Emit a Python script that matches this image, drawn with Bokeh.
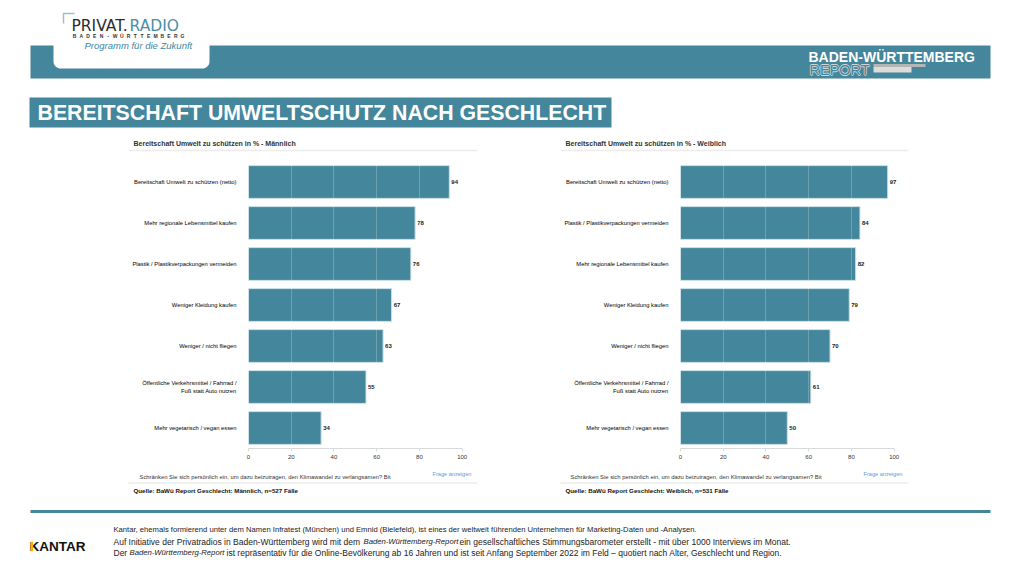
from bokeh.plotting import figure
from bokeh.models import Range1d, FactorRange, ColumnDataSource, LabelSet, FixedTicker
from bokeh.layouts import column, row
from bokeh.embed import file_html
from bokeh.resources import INLINE
from bokeh.core.properties import value
import numpy as np

# ---------------- data ----------------
male_categories = [
    "Bereitschaft Umwelt zu schützen (netto)",
    "Mehr regionale Lebensmittel kaufen",
    "Plastik / Plastikverpackungen vermeiden",
    "Weniger Kleidung kaufen",
    "Weniger / nicht fliegen",
    "Öffentliche Verkehrsmittel / Fahrrad /\nFuß statt Auto nutzen",
    "Mehr vegetarisch / vegan essen",
]
male_values = [94, 78, 76, 67, 63, 55, 34]

female_categories = [
    "Bereitschaft Umwelt zu schützen (netto)",
    "Plastik / Plastikverpackungen vermeiden",
    "Mehr regionale Lebensmittel kaufen",
    "Weniger Kleidung kaufen",
    "Weniger / nicht fliegen",
    "Öffentliche Verkehrsmittel / Fahrrad /\nFuß statt Auto nutzen",
    "Mehr vegetarisch / vegan essen",
]
female_values = [97, 84, 82, 79, 70, 61, 50]

x_ticks = [0, 20, 40, 60, 80, 100]

slide_title = "BEREITSCHAFT UMWELTSCHUTZ NACH GESCHLECHT"
male_title = "Bereitschaft Umwelt zu schützen in % - Männlich"
female_title = "Bereitschaft Umwelt zu schützen in % - Weiblich"
question = "Schränken Sie sich persönlich ein, um dazu beizutragen, den Klimawandel zu verlangsamen? Bit"
male_source = "Quelle: BaWü Report Geschlecht: Männlich, n=527 Fälle"
female_source = "Quelle: BaWü Report Geschlecht: Weiblich, n=531 Fälle"

TEAL = "#44869B"
FONT = "Liberation Sans"
W = 1011


def canvas(h, ytop, ybot):
    p = figure(width=W, height=h, x_range=Range1d(0, W), y_range=Range1d(ybot, ytop),
               output_backend="svg", toolbar_location=None, min_border=0,
               min_border_left=0, min_border_right=0, min_border_top=0, min_border_bottom=0,
               x_axis_location=None, y_axis_location=None)
    p.outline_line_color = None
    p.grid.visible = False
    p.background_fill_color = "white"
    p.border_fill_color = "white"
    return p


def txt(p, x, y, s, size, color="#222", style="normal", font=FONT, align="left"):
    p.text(x=[x], y=[y], text=[s], text_font=value(font), text_font_size=size,
           text_color=color, text_font_style=style, text_baseline="middle", text_align=align)


# ---------------- header ----------------
top = canvas(152, 0, 152)
top.quad(left=[30], right=[990], top=[45], bottom=[78], fill_color=TEAL, line_color=None)

# logo box with rounded bottom corners
r = 7
x0, x1, y0, y1 = 53, 209, 0, 68
t1 = np.linspace(0, np.pi / 2, 10)
t2 = np.linspace(np.pi / 2, np.pi, 10)
bx = [x0, x1] + list(x1 - r + r * np.cos(t1)) + list(x0 + r + r * np.cos(t2))
by = [y0, y0] + list(y1 - r + r * np.sin(t1)) + list(y1 - r + r * np.sin(t2))
top.patch(bx, by, fill_color="white", line_color=None)
top.line([63, 63, 74], [23, 13, 13], line_color="#9dbfcb", line_width=1.5)
txt(top, 71, 25.5, "PRIVAT.", "15.5px", "#2b2b2b", font="DejaVu Sans")
txt(top, 129, 25.5, "RADIO", "15.5px", "#4b8ea6", font="DejaVu Sans")
bw = "BADEN-WÜRTTEMBERG"
for i, ch in enumerate(bw):
    txt(top, 74 + i * (108 / (len(bw) - 1)), 35.5, ch, "5px", "#333", "bold", align="center")
txt(top, 84, 44.5, "Programm für die Zukunft", "9.5px", "#3d87a3", "italic")

# right header
txt(top, 808, 56, "BADEN-WÜRTTEMBERG", "14px", "white", "bold")
for dx, dy in [(-0.7, 0), (0.7, 0), (0, -0.7), (0, 0.7)]:
    txt(top, 809 + dx, 69.5 + dy, "REPORT", "14.5px", "#cfd6d9")
txt(top, 809, 69.5, "REPORT", "14.5px", TEAL)
top.quad(left=[873], right=[925], top=[63.5], bottom=[66.5], fill_color="#b5b5b5", line_color=None)
top.quad(left=[873], right=[911], top=[66.5], bottom=[72], fill_color="#dcdcdc", line_color=None)

# slide title
top.quad(left=[29], right=[611], top=[97], bottom=[127], fill_color=TEAL, line_color=None)
txt(top, 37, 112.5, slide_title, "21.3px", "white", "bold")

# chart titles
txt(top, 133, 143, male_title, "7px", "#333", "bold")
txt(top, 565, 143, female_title, "7px", "#333", "bold")
top.line([128, 477], [150, 150], line_color="#ececec", line_width=1.5)
top.line([560, 908], [150, 150], line_color="#ececec", line_width=1.5)


# ---------------- charts ----------------
def make_chart(cats, vals, width, lb, rb):
    p = figure(width=width, height=316, y_range=FactorRange(factors=cats[::-1]),
               x_range=Range1d(0, 110), output_backend="svg", toolbar_location=None,
               min_border_left=lb, min_border_right=rb, min_border_top=9, min_border_bottom=20)
    p.outline_line_color = None
    p.background_fill_color = "white"
    p.border_fill_color = "white"
    src = ColumnDataSource(dict(cat=cats, val=vals, lab=[str(v) for v in vals]))
    p.hbar(y="cat", left=0, right="val", height=0.8, source=src,
           fill_color=TEAL, line_color="#cfe2e8", line_width=1)
    p.add_layout(LabelSet(x="val", y="cat", text="lab", source=src, x_offset=2,
                          text_baseline="middle", text_font=value(FONT), text_font_size="6px",
                          text_font_style="bold", text_color="#222"))
    p.ygrid.visible = False
    p.xgrid.ticker = FixedTicker(ticks=x_ticks[1:-1])
    p.xgrid.grid_line_color = "white"
    p.xgrid.grid_line_alpha = 0.22
    p.xgrid.level = "overlay"
    p.xaxis.ticker = FixedTicker(ticks=x_ticks)
    p.xaxis.bounds = (x_ticks[0], x_ticks[-1])
    p.xaxis.axis_line_color = "#d9d9d9"
    p.xaxis.major_tick_line_color = "#d9d9d9"
    p.xaxis.major_tick_out = 3
    p.xaxis.major_tick_in = 0
    p.xaxis.minor_tick_line_color = None
    p.xaxis.major_label_text_font = FONT
    p.xaxis.major_label_text_font_size = "6px"
    p.xaxis.major_label_text_color = "#333"
    p.xaxis.major_label_standoff = 3
    p.yaxis.axis_line_color = None
    p.yaxis.major_tick_line_color = None
    p.yaxis.minor_tick_line_color = None
    p.yaxis.major_label_text_font = FONT
    p.yaxis.major_label_text_font_size = "5.8px"
    p.yaxis.major_label_text_color = "#000"
    p.yaxis.major_label_standoff = 6
    return p


left = make_chart(male_categories, male_values, 520, 248, 37)
right = make_chart(female_categories, female_values, 491, 160, 96)

# ---------------- footer ----------------
bot = canvas(97, 468, 565)
txt(bot, 139, 476.5, question, "5.85px", "#333")
txt(bot, 570, 476.5, question, "5.85px", "#333")
txt(bot, 432, 473, "Frage anzeigen", "5.6px", "#5b9bd5")
txt(bot, 863, 473, "Frage anzeigen", "5.6px", "#5b9bd5")
bot.line([128, 477], [482.5, 482.5], line_color="#ececec", line_width=1.5)
bot.line([560, 908], [482.5, 482.5], line_color="#ececec", line_width=1.5)
txt(bot, 133, 490, male_source, "6.2px", "#111", "bold")
txt(bot, 565, 490, female_source, "6.2px", "#111", "bold")

bot.line([30, 990], [511, 511], line_color=TEAL, line_width=3)
txt(bot, 29, 546, "KANTAR", "13.5px", "#111", "bold")
bot.quad(left=[30.2], right=[32.6], top=[541.2], bottom=[550.8], fill_color="#f2b705", line_color=None)

fs1 = "7.65px"
fsn = "8.5px"
fsi = "7.7px"
txt(bot, 113, 529, "Kantar, ehemals formierend unter dem Namen Infratest (München) und Emnid  (Bielefeld), ist eines der weltweit führenden Unternehmen für Marketing-Daten und -Analysen.", fs1, "#222")
txt(bot, 113, 541, "Auf Initiative der Privatradios in  Baden-Württemberg wird mit dem", fsn, "#222")
txt(bot, 363, 541, "Baden-Württemberg-Report", fsi, "#222", "italic")
txt(bot, 459, 541, "ein gesellschaftliches Stimmungsbarometer erstellt - mit  über 1000 Interviews im Monat.", fsn, "#222")
txt(bot, 113, 552, "Der", fsn, "#222")
txt(bot, 129, 552, "Baden-Württemberg-Report", fsi, "#222", "italic")
txt(bot, 226, 552, "ist repräsentativ für die Online-Bevölkerung ab 16 Jahren und ist seit Anfang September 2022 im Feld – quotiert nach Alter, Geschlecht und Region.", fsn, "#222")

layout = column(top, row(left, right, spacing=0), bot, spacing=0)
open("out.html", "w").write(file_html(layout, INLINE))
